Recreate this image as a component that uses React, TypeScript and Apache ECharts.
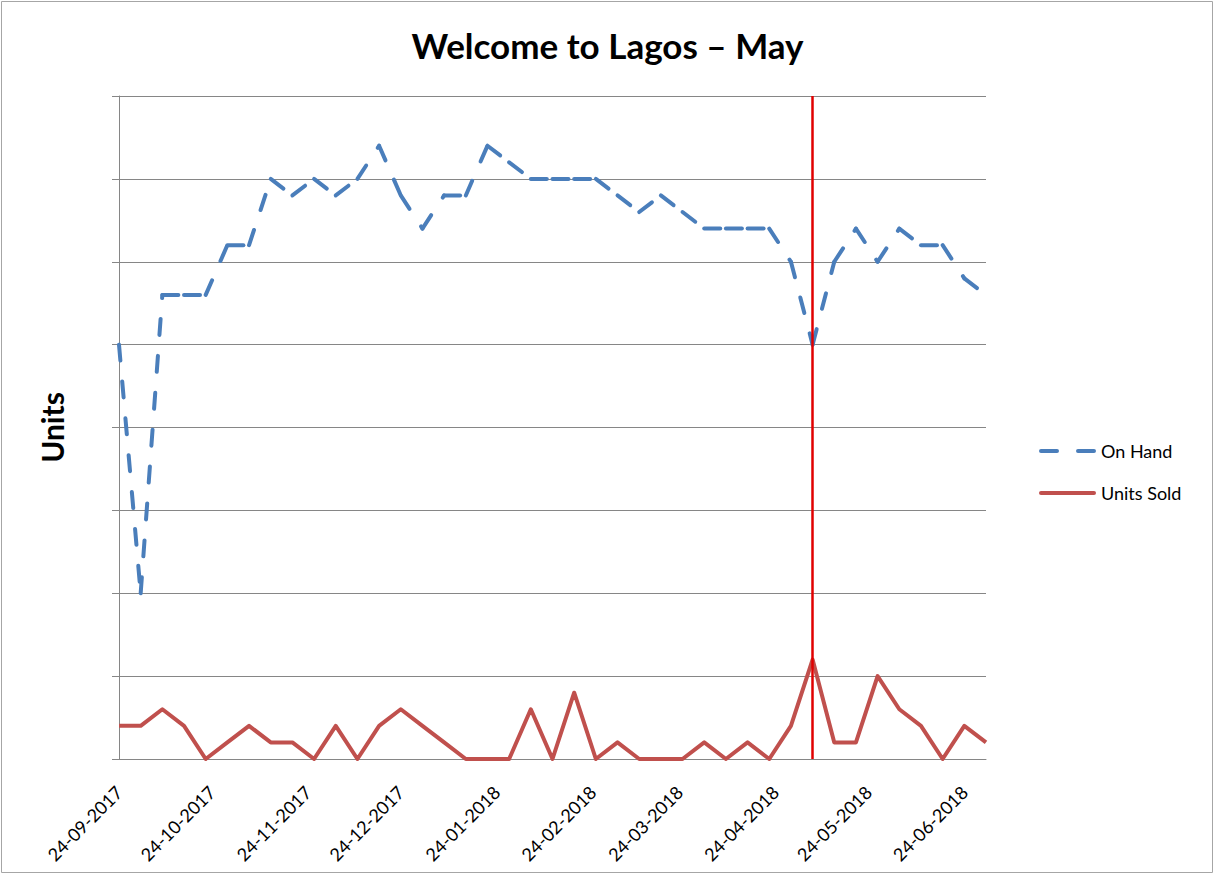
import { useEffect, useRef } from 'react'
import * as echarts from 'echarts'

// weekly snapshots
const weekDates = [
  '2017-09-24', '2017-10-01', '2017-10-08', '2017-10-15', '2017-10-22', '2017-10-29',
  '2017-11-05', '2017-11-12', '2017-11-19', '2017-11-26', '2017-12-03', '2017-12-10',
  '2017-12-17', '2017-12-24', '2017-12-31', '2018-01-07', '2018-01-14', '2018-01-21',
  '2018-01-28', '2018-02-04', '2018-02-11', '2018-02-18', '2018-02-25', '2018-03-04',
  '2018-03-11', '2018-03-18', '2018-03-25', '2018-04-01', '2018-04-08', '2018-04-15',
  '2018-04-22', '2018-04-29', '2018-05-06', '2018-05-13', '2018-05-20', '2018-05-27',
  '2018-06-03', '2018-06-10', '2018-06-17', '2018-06-24', '2018-07-01',
]

const onHand = [
  25, 10, 28, 28, 28, 31, 31, 35, 34, 35, 34, 35, 37, 34, 32, 34, 34, 37, 36, 35, 35,
  35, 35, 34, 33, 34, 33, 32, 32, 32, 32, 30, 25, 30, 32, 30, 32, 31, 31, 29, 28,
]

const unitsSold = [
  2, 2, 3, 2, 0, 1, 2, 1, 1, 0, 2, 0, 2, 3, 2, 1, 0, 0, 0, 3, 0,
  4, 0, 1, 0, 0, 0, 1, 0, 1, 0, 2, 6, 1, 1, 5, 3, 2, 0, 2, 1,
]

const labelDates = [
  '2017-09-24', '2017-10-24', '2017-11-24', '2017-12-24', '2018-01-24',
  '2018-02-24', '2018-03-24', '2018-04-24', '2018-05-24', '2018-06-24',
]

const markerDate = '2018-05-06'

const FONT = 'Lato, "Open Sans", sans-serif'
const BLUE = '#4A7EBB'
const RED = '#C0504D'
const GRID = '#868686'

const toTime = (s: string) => {
  const [y, m, d] = s.split('-').map(Number)
  return new Date(y, m - 1, d).getTime()
}
const pad = (n: number) => String(n).padStart(2, '0')
const fmtDate = (t: number) => {
  const d = new Date(t)
  return `${pad(d.getDate())}-${pad(d.getMonth() + 1)}-${d.getFullYear()}`
}

// legend icons: two rounded dashes / one solid rounded bar
const DASH_ICON =
  'path://M2,0 L18,0 A2,2 0 0 1 18,4 L2,4 A2,2 0 0 1 2,0 Z M39,0 L55,0 A2,2 0 0 1 55,4 L39,4 A2,2 0 0 1 39,0 Z'
const BAR_ICON = 'path://M2,0 L55,0 A2,2 0 0 1 55,4 L2,4 A2,2 0 0 1 2,0 Z'

export default function App() {
  const ref = useRef<HTMLDivElement>(null)

  useEffect(() => {
    if (!ref.current) return
    const chart = echarts.init(ref.current, undefined, { renderer: 'svg' })

    const times = weekDates.map(toTime)
    // Excel restarts the dash pattern at every vertex, so draw segment by segment
    const segments = onHand.slice(1).map((v, i) => [times[i], onHand[i], times[i + 1], v])

    const option: echarts.EChartsOption = {
      animation: false,
      backgroundColor: '#fff',
      textStyle: { fontFamily: FONT },
      title: {
        text: 'Welcome to Lagos – May',
        left: 'center',
        top: 22,
        textStyle: { fontSize: 35, fontWeight: 'bold', color: '#000', fontFamily: FONT },
      },
      graphic: [
        {
          type: 'rect',
          silent: true,
          shape: { x: 1.5, y: 1.5, width: 1211, height: 871 },
          style: { fill: 'none', stroke: '#a6a6a6', lineWidth: 1 },
        },
      ],
      legend: {
        orient: 'vertical',
        left: 1034,
        top: 436,
        itemWidth: 57,
        itemHeight: 4,
        itemGap: 22,
        textStyle: { fontSize: 18, lineHeight: 20, color: '#000', fontFamily: FONT },
        data: [
          { name: 'On Hand', icon: DASH_ICON, itemStyle: { color: BLUE } },
          { name: 'Units Sold', icon: BAR_ICON, itemStyle: { color: RED } },
        ],
      },
      grid: { left: 119, top: 96, width: 867, height: 663, containLabel: false, outerBoundsMode: 'none' } as any,
      xAxis: {
        type: 'value',
        min: times[0],
        max: times[times.length - 1],
        axisLine: { lineStyle: { color: GRID, width: 1 } },
        axisTick: { show: false },
        splitLine: { show: false },
        axisLabel: {
          customValues: labelDates.map(toTime),
          rotate: 45,
          margin: 30,
          fontSize: 18,
          color: '#000',
          fontFamily: FONT,
          hideOverlap: false,
          formatter: (v: number) => fmtDate(v),
        },
      } as any,
      yAxis: {
        type: 'value',
        min: 0,
        max: 40,
        interval: 5,
        name: 'Units',
        nameLocation: 'middle',
        nameGap: 52,
        nameRotate: 90,
        nameTextStyle: { fontSize: 30, fontWeight: 'bold', color: '#000', fontFamily: FONT },
        axisLine: { show: true, lineStyle: { color: GRID, width: 1 } },
        axisTick: { show: true, length: 7, lineStyle: { color: GRID } },
        axisLabel: { show: false },
        splitLine: { lineStyle: { color: GRID, width: 1 } },
      },
      series: [
        {
          name: 'On Hand',
          type: 'custom',
          data: segments,
          encode: { x: [0, 2], y: [1, 3] },
          itemStyle: { color: BLUE },
          renderItem: (_params: any, api: any) => {
            const a = api.coord([api.value(0), api.value(1)])
            const b = api.coord([api.value(2), api.value(3)])
            return {
              type: 'line',
              shape: { x1: a[0], y1: a[1], x2: b[0], y2: b[1] },
              style: { stroke: BLUE, lineWidth: 4, lineDash: [16, 21], lineCap: 'round', fill: null },
            }
          },
        } as any,
        {
          name: 'Units Sold',
          type: 'line',
          data: times.map((t, i) => [t, unitsSold[i]]),
          symbol: 'none',
          itemStyle: { color: RED },
          lineStyle: { color: RED, width: 4, join: 'round' } as any,
          markLine: {
            silent: true,
            symbol: 'none',
            label: { show: false },
            lineStyle: { color: '#E10000', width: 2.5, type: 'solid' },
            data: [{ xAxis: toTime(markerDate) }],
          },
        },
      ],
    }

    chart.setOption(option)
    return () => chart.dispose()
  }, [])

  return (
    <div
      ref={ref}
      style={{ position: 'fixed', left: 0, top: 0, width: 1215, height: 875, background: '#fff' }}
    />
  )
}
